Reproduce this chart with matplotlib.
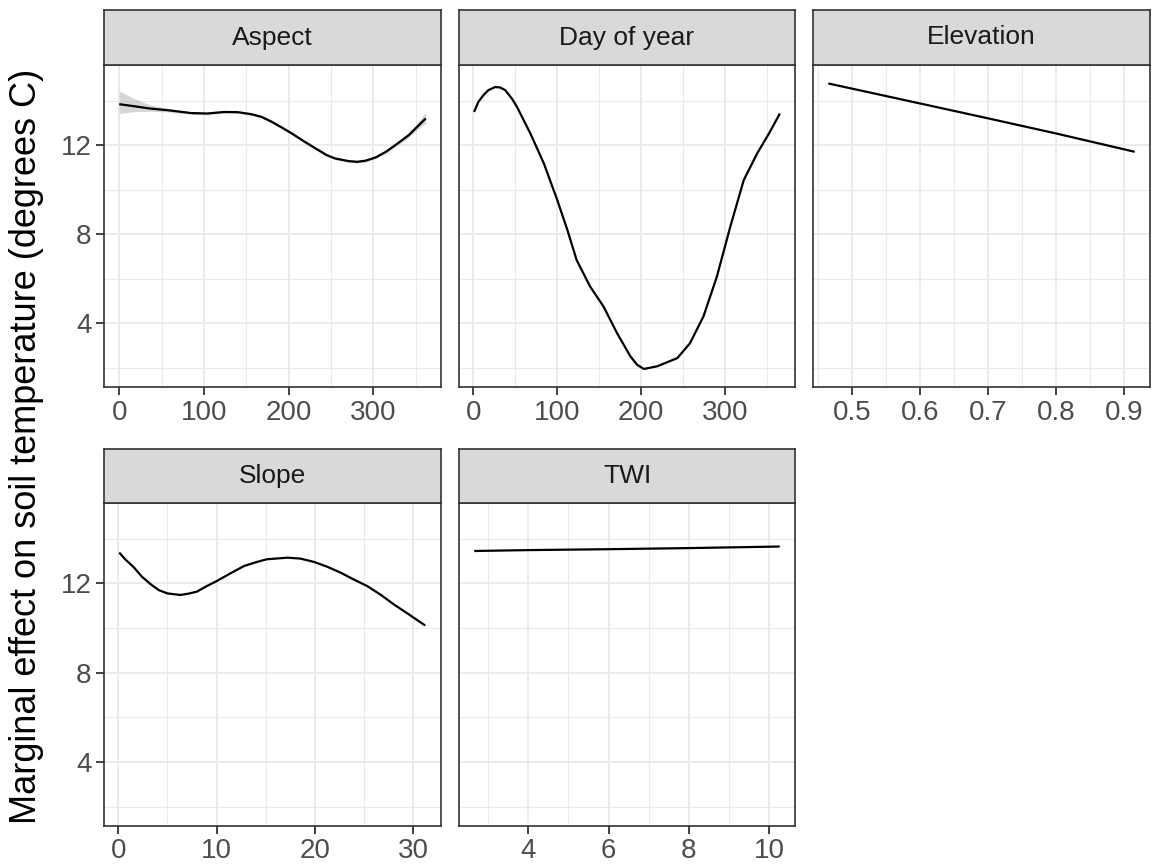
import numpy as np
import matplotlib
matplotlib.use("Agg")
import matplotlib.pyplot as plt
from matplotlib.ticker import MultipleLocator

plt.rcParams['font.family'] = ['Liberation Sans', 'DejaVu Sans']

# values
aspect_x = [0, 17, 37, 57, 85, 104, 124, 140, 156, 168, 180, 192, 204, 219, 235,
            245, 255, 271, 281, 291, 303, 315, 329, 342, 354, 362]
aspect_y = [13.84, 13.75, 13.64, 13.57, 13.44, 13.42, 13.49, 13.48, 13.39, 13.27, 13.05,
            12.79, 12.52, 12.15, 11.78, 11.55, 11.40, 11.28, 11.25, 11.30, 11.45, 11.70,
            12.08, 12.45, 12.90, 13.20]
aspect_lo = [13.42, 13.50, 13.52, 13.49, 13.38, 13.36, 13.43, 13.42, 13.33, 13.21, 12.99,
             12.73, 12.46, 12.09, 11.72, 11.49, 11.34, 11.22, 11.19, 11.24, 11.39, 11.63,
             12.00, 12.35, 12.75, 12.98]
aspect_hi = [14.44, 14.10, 13.80, 13.65, 13.50, 13.48, 13.55, 13.54, 13.45, 13.33, 13.11,
             12.85, 12.58, 12.21, 11.84, 11.61, 11.46, 11.34, 11.31, 11.36, 11.51, 11.77,
             12.16, 12.57, 13.10, 13.48]

doy_x = [1, 6, 12, 18, 26, 32, 38, 46, 52, 60, 68, 84, 100, 112, 123, 139, 155, 171,
         187, 195, 203, 219, 243, 258, 274, 290, 306, 322, 338, 352, 365]
doy_y = [13.49, 13.94, 14.24, 14.47, 14.61, 14.59, 14.47, 14.09, 13.72, 13.12, 12.52,
         11.18, 9.53, 8.19, 6.84, 5.65, 4.75, 3.56, 2.51, 2.13, 1.94, 2.06, 2.43, 3.10,
         4.30, 6.09, 8.34, 10.43, 11.63, 12.52, 13.42]

elev_x = [0.465, 0.6, 0.7, 0.8, 0.915]
elev_y = [14.77, 13.87, 13.20, 12.52, 11.70]

slope_x = [0.1, 0.7, 1.6, 2.4, 3.3, 4.1, 5.0, 6.3, 7.15, 8.0, 9.0, 10.0, 11.4, 12.8,
           14.1, 15.1, 17.2, 18.5, 19.9, 21.2, 22.6, 23.9, 25.3, 26.7, 28.0, 29.7, 31.2]
slope_y = [13.38, 13.08, 12.71, 12.30, 11.96, 11.70, 11.55, 11.48, 11.54, 11.63, 11.88,
           12.10, 12.45, 12.78, 12.96, 13.08, 13.15, 13.11, 12.96, 12.75, 12.48, 12.18,
           11.88, 11.48, 11.06, 10.56, 10.11]

twi_x = [2.65, 4.0, 6.0, 8.0, 10.27]
twi_y = [13.45, 13.49, 13.53, 13.58, 13.65]

titles = ["Aspect", "Day of year", "Elevation", "Slope", "TWI"]
xlims = [(-18, 380), (-17, 383), (0.4425, 0.9375), (-1.45, 32.8), (2.27, 10.65)]
xmajor = [100, 100, 0.1, 10, 2]
ylim = (1.13, 15.6)

W, H = 1153, 868
fig = plt.figure(figsize=(W / 100, H / 100), dpi=100)

cols = [(104, 441), (459, 795), (813, 1150)]
rows = [(10, 65, 387), (449, 503, 826)]
dark = "#333333"

def make_panel(i):
    r, c = divmod(i, 3)
    x0, x1 = cols[c]
    s0, p0, p1 = rows[r]
    ax = fig.add_axes([x0 / W, 1 - p1 / H, (x1 - x0) / W, (p1 - p0) / H])
    st = fig.add_axes([x0 / W, 1 - p0 / H, (x1 - x0) / W, (p0 - s0) / H])
    st.set_facecolor("#D9D9D9")
    st.set_xticks([])
    st.set_yticks([])
    for sp in st.spines.values():
        sp.set_color(dark)
        sp.set_linewidth(1.2)
    st.text(0.5, 0.5, titles[i], ha="center", va="center", fontsize=19,
            color="#1A1A1A", transform=st.transAxes)

    ax.set_xlim(*xlims[i])
    ax.set_ylim(*ylim)
    ax.xaxis.set_major_locator(MultipleLocator(xmajor[i]))
    ax.xaxis.set_minor_locator(MultipleLocator(xmajor[i] / 2))
    ax.yaxis.set_major_locator(MultipleLocator(4))
    ax.yaxis.set_minor_locator(MultipleLocator(2))
    ax.grid(which="major", color="#EBEBEB", linewidth=1.4)
    ax.grid(which="minor", color="#EBEBEB", linewidth=0.8)
    ax.set_axisbelow(True)
    ax.tick_params(which="minor", length=0)
    ax.tick_params(which="major", length=6, width=1.3, color=dark,
                   labelsize=20, labelcolor="#4D4D4D", pad=3)
    if c != 0:
        ax.tick_params(axis="y", which="both", left=False, labelleft=False)
    for sp in ax.spines.values():
        sp.set_color(dark)
        sp.set_linewidth(1.2)
    if i == 2:
        ax.set_xticks([0.5, 0.6, 0.7, 0.8, 0.9])
        ax.set_xticklabels(["0.5", "0.6", "0.7", "0.8", "0.9"])
    return ax

axes = [make_panel(i) for i in range(5)]

line_kw = dict(color="black", lw=1.6, solid_joinstyle="round", solid_capstyle="butt")
axes[0].fill_between(aspect_x, aspect_lo, aspect_hi, color="#999999", alpha=0.4, linewidth=0)
axes[0].plot(aspect_x, aspect_y, **line_kw)
axes[1].plot(doy_x, doy_y, **line_kw)
axes[2].plot(elev_x, elev_y, **line_kw)
axes[3].plot(slope_x, slope_y, **line_kw)
axes[4].plot(twi_x, twi_y, **line_kw)

fig.text(27 / W, 1 - 446 / H, "Marginal effect on soil temperature (degrees C)",
         rotation=90, ha="center", va="center", fontsize=26, color="black")

fig.savefig("out.png", dpi=100)
